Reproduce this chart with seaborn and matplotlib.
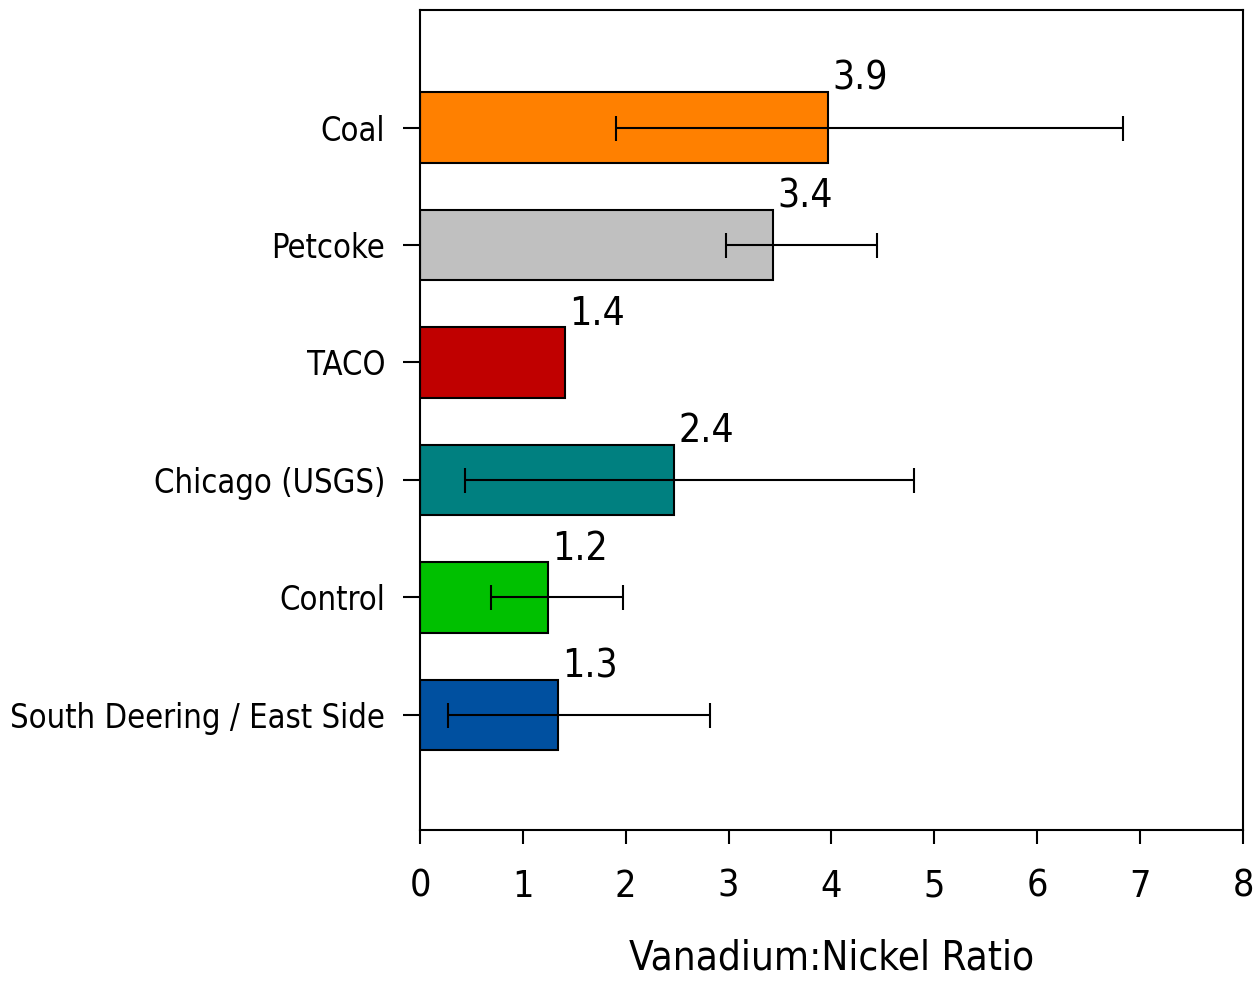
import matplotlib
matplotlib.use("Agg")
import matplotlib.pyplot as plt
import seaborn as sns
import numpy as np
import pandas as pd

sites = ["Coal", "Petcoke", "TACO", "Chicago (USGS)", "Control", "South Deering / East Side"]
ratio = [3.97, 3.43, 1.41, 2.47, 1.24, 1.34]
err_low = [1.91, 2.97, np.nan, 0.44, 0.69, 0.27]
err_high = [6.83, 4.44, np.nan, 4.80, 1.97, 2.82]
value_labels = ["3.9", "3.4", "1.4", "2.4", "1.2", "1.3"]
colors = ["#FF8000", "#C0C0C0", "#C00000", "#008080", "#00C000", "#0050A0"]

sns.set_theme(style="white")
plt.rcParams['font.family'] = ['DejaVu Sans']
plt.rcParams['font.stretch'] = 'condensed'
plt.rcParams['text.color'] = 'black'
plt.rcParams['xtick.color'] = 'black'
plt.rcParams['ytick.color'] = 'black'
plt.rcParams['axes.labelcolor'] = 'black'

df = pd.DataFrame({"site": sites, "ratio": ratio})

fig = plt.figure(figsize=(12.53, 9.84), dpi=100)
ax = fig.add_axes([0.3352, 0.1565, 0.6568, 0.8333])

sns.barplot(data=df, x="ratio", y="site", hue="site", palette=colors, order=sites,
            orient="h", width=0.6, edgecolor="black", linewidth=1.5, saturation=1,
            errorbar=None, legend=False, ax=ax)

# asymmetric error bars (TACO has none)
ratio_arr = np.array(ratio)
xerr = np.vstack([ratio_arr - np.array(err_low), np.array(err_high) - ratio_arr])
ax.errorbar(ratio_arr, np.arange(len(sites)), xerr=xerr, fmt="none",
            ecolor="black", elinewidth=1.5, capsize=9, capthick=1.5)

for i, (v, lab) in enumerate(zip(ratio, value_labels)):
    ax.annotate(lab, xy=(v, i - 0.3), xytext=(3, -4), textcoords="offset points",
                ha="left", va="bottom", fontsize=28)

ax.set_xlim(0, 8)
ax.set_ylim(5.98, -1.0)
ax.set_xticks(range(0, 9))
ax.tick_params(axis="x", labelsize=27, length=10, width=1.5, direction="out",
               bottom=True, pad=18)
ax.tick_params(axis="y", labelsize=23.5, length=12, width=1.5, direction="out",
               left=True, pad=13)
ax.set_xlabel("Vanadium:Nickel Ratio", fontsize=29, labelpad=24)
ax.set_ylabel("")
for s in ax.spines.values():
    s.set_color("black")
    s.set_linewidth(1.5)

fig.savefig("out.png", dpi=100)
